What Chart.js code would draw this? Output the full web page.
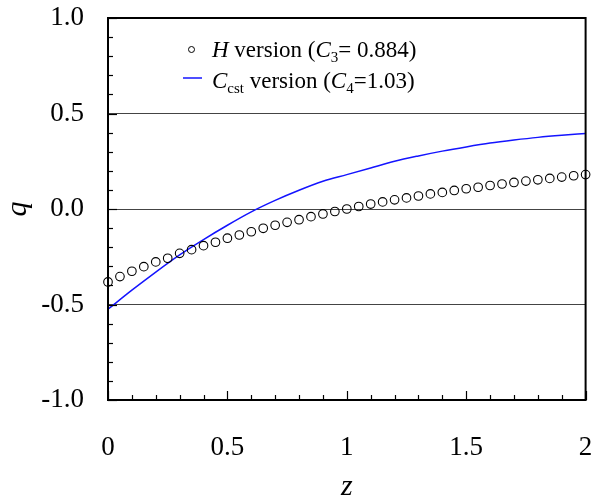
<!DOCTYPE html>
<html>
<head>
<meta charset="utf-8">
<script src="https://cdn.jsdelivr.net/npm/chart.js@4.4.1/dist/chart.umd.min.js"></script>
<style>
  html, body { margin: 0; padding: 0; background: #fff; }
  #wrap { width: 591px; height: 496px; }
</style>
</head>
<body>
<div id="wrap"><canvas id="qChart" width="591" height="496"></canvas></div>
<script>
// H version (step 0.05 in z)
const zH = [0, 0.05, 0.1, 0.15, 0.2, 0.25, 0.3, 0.35, 0.4, 0.45,
            0.5, 0.55, 0.6, 0.65, 0.7, 0.75, 0.8, 0.85, 0.9, 0.95,
            1, 1.05, 1.1, 1.15, 1.2, 1.25, 1.3, 1.35, 1.4, 1.45,
            1.5, 1.55, 1.6, 1.65, 1.7, 1.75, 1.8, 1.85, 1.9, 1.95, 2]
const qH = [-0.382, -0.354, -0.326, -0.302, -0.277, -0.258, -0.232, -0.213, -0.192, -0.174,
            -0.153, -0.136, -0.119, -0.101, -0.085, -0.070, -0.056, -0.040, -0.026, -0.013,
            0.000, 0.013, 0.026, 0.037, 0.048, 0.058, 0.068, 0.079, 0.087, 0.097,
            0.106, 0.114, 0.123, 0.131, 0.139, 0.146, 0.153, 0.160, 0.167, 0.174, 0.180]

// Ccst version
const zC = [0, 0.1, 0.2, 0.3, 0.4, 0.5, 0.6, 0.7, 0.8, 0.9, 1,
            1.1, 1.2, 1.3, 1.4, 1.5, 1.6, 1.7, 1.8, 1.9, 2]
const qC = [-0.525, -0.425, -0.330, -0.240, -0.160, -0.085, -0.015, 0.045, 0.098, 0.145, 0.180,
            0.215, 0.250, 0.278, 0.303, 0.325, 0.345, 0.361, 0.375, 0.386, 0.395]

const xTicks = [0, 0.5, 1, 1.5, 2]
const yTicks = [-1, -0.5, 0, 0.5, 1]
const yGridAt = [-0.5, 0, 0.5]

const SERIF = "'Liberation Serif', 'Times New Roman', serif"

// inward minor/major ticks on left and bottom, plus the closed frame
const frameTicks = {
    id: 'frameTicks',
    afterDraw(chart) {
        const ctx = chart.ctx
        const area = chart.chartArea
        const xs = chart.scales.x
        const ys = chart.scales.y
        ctx.save()
        ctx.strokeStyle = '#000'
        ctx.lineWidth = 1.2
        for (let i = 0; i <= 20; i++) {
            const major = i % 5 === 0
            const len = major ? 9 : 5
            const px = Math.round(xs.getPixelForValue(i / 10)) + 0.5
            ctx.beginPath()
            ctx.moveTo(px, area.bottom)
            ctx.lineTo(px, area.bottom - len)
            ctx.stroke()
            const py = Math.round(ys.getPixelForValue(-1 + i / 10)) + 0.5
            ctx.beginPath()
            ctx.moveTo(area.left, py)
            ctx.lineTo(area.left + len, py)
            ctx.stroke()
        }
        ctx.lineWidth = 2
        ctx.strokeRect(area.left, area.top, area.right - area.left, area.bottom - area.top)
        ctx.restore()
    }
}

// legend with italic letters and subscripts
function drawRich(ctx, x, y, parts) {
    parts.forEach(p => {
        const size = p.sub ? 15 : 23
        ctx.font = (p.italic ? 'italic ' : '') + size + 'px ' + SERIF
        ctx.fillText(p.t, x, p.sub ? y + 5 : y)
        x += ctx.measureText(p.t).width
    })
}

const richLegend = {
    id: 'richLegend',
    afterDraw(chart) {
        const ctx = chart.ctx
        const area = chart.chartArea
        const x0 = area.left + 104
        ctx.save()
        ctx.fillStyle = '#000'
        ctx.textBaseline = 'alphabetic'

        ctx.strokeStyle = '#000'
        ctx.lineWidth = 1
        ctx.beginPath()
        ctx.arc(area.left + 83.5, area.top + 31.5, 3, 0, Math.PI * 2)
        ctx.stroke()
        drawRich(ctx, x0, area.top + 39, [
            { t: 'H', italic: true }, { t: ' version (' },
            { t: 'C', italic: true }, { t: '3', sub: true }, { t: '= 0.884)' }
        ])

        ctx.strokeStyle = '#1414ff'
        ctx.lineWidth = 1.5
        ctx.beginPath()
        ctx.moveTo(area.left + 75, area.top + 60)
        ctx.lineTo(area.left + 94, area.top + 60)
        ctx.stroke()
        drawRich(ctx, x0, area.top + 70, [
            { t: 'C', italic: true }, { t: 'cst', sub: true }, { t: ' version (' },
            { t: 'C', italic: true }, { t: '4', sub: true }, { t: '=1.03)' }
        ])
        ctx.restore()
    }
}

const chart = new Chart(document.getElementById('qChart'), {
    type: 'scatter',
    data: {
        datasets: [{
            label: 'H version (C3= 0.884)',
            data: zH.map((z, i) => ({ x: z, y: qH[i] })),
            showLine: false,
            pointStyle: 'circle',
            pointRadius: 4.3,
            pointBackgroundColor: 'rgba(0,0,0,0)',
            pointBorderColor: '#000',
            pointBorderWidth: 1.1,
            clip: false,
            order: 1
        }, {
            label: 'Ccst version (C4=1.03)',
            data: zC.map((z, i) => ({ x: z, y: qC[i] })),
            showLine: true,
            pointRadius: 0,
            borderColor: '#1414ff',
            borderWidth: 1.5,
            cubicInterpolationMode: 'monotone',
            order: 2
        }]
    },
    options: {
        responsive: false,
        animation: false,
        devicePixelRatio: 1,
        layout: { padding: { top: 18, right: 5, left: 0, bottom: 0 } },
        plugins: {
            legend: { display: false },
            tooltip: { enabled: false }
        },
        scales: {
            x: {
                type: 'linear',
                min: 0,
                max: 2,
                afterBuildTicks: s => { s.ticks = xTicks.map(v => ({ value: v })) },
                afterFit: s => {
                    s.height = 96
                    s.paddingLeft = 0
                    s.paddingRight = 0
                },
                ticks: {
                    color: '#000',
                    font: { family: SERIF, size: 27 },
                    padding: 32,
                    maxRotation: 0,
                    callback: v => String(v)
                },
                grid: { drawOnChartArea: false, drawTicks: false },
                border: { color: '#000', width: 2 },
                title: {
                    display: true,
                    text: 'z',
                    color: '#000',
                    font: { family: SERIF, size: 30, style: 'italic', lineHeight: 0.6 },
                    padding: 0
                }
            },
            y: {
                type: 'linear',
                min: -1,
                max: 1,
                afterBuildTicks: s => { s.ticks = yTicks.map(v => ({ value: v })) },
                afterFit: s => {
                    s.width = 108
                    s.paddingTop = 0
                    s.paddingBottom = 0
                },
                ticks: {
                    color: '#000',
                    font: { family: SERIF, size: 27 },
                    padding: 24,
                    callback: v => v.toFixed(1)
                },
                grid: {
                    drawTicks: false,
                    lineWidth: 1,
                    color: c => yGridAt.includes(c.tick.value) ? '#444' : 'rgba(0,0,0,0)'
                },
                border: { color: '#000', width: 2 },
                title: {
                    display: true,
                    text: 'q',
                    color: '#000',
                    font: { family: SERIF, size: 30, style: 'italic', lineHeight: 1 },
                    padding: { top: 3, bottom: 0 }
                }
            }
        }
    },
    plugins: [frameTicks, richLegend]
})
</script>
</body>
</html>
